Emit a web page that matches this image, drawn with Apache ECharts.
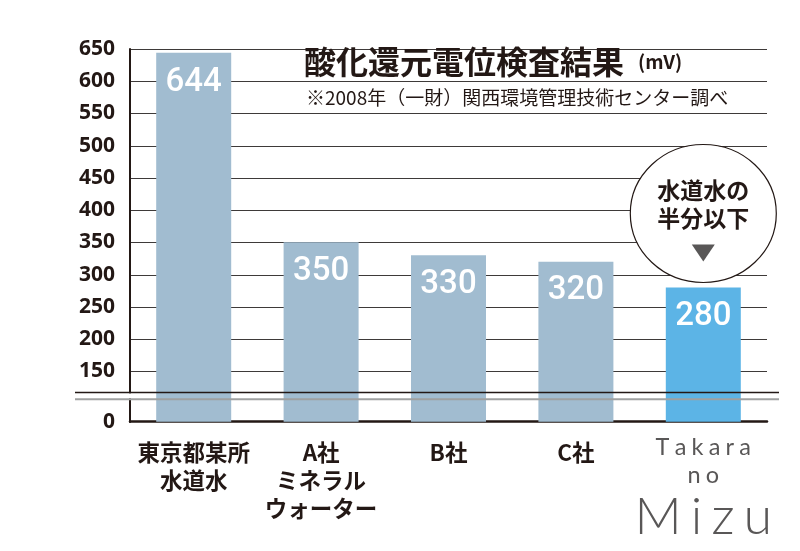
<!DOCTYPE html>
<html><head><meta charset="utf-8">
<script src="https://cdn.jsdelivr.net/npm/echarts@6/dist/echarts.min.js"></script>
<style>html,body{margin:0;padding:0;background:#fff}#c{width:800px;height:551px}</style>
</head><body><div id="c"></div>
<script>
// ---- data ----
const categories = ['東京都某所\n水道水', 'A社\nミネラル\nウォーター', 'B社', 'C社', 'Takara\nno\nMizu'];
const values = [644, 350, 330, 320, 280];
const yMin = 0, yMax = 650, yInterval = 50;
const yTickValues = [0, 150, 200, 250, 300, 350, 400, 450, 500, 550, 600, 650];
const breakStart = 35, breakEnd = 117;
const titleMain = '酸化還元電位検査結果';
const titleUnit = '(mV)';
const subTitle = '※2008年（一財）関西環境管理技術センター調べ';
const calloutLines = ['水道水の', '半分以下'];

// ---- styles ----
const DARK = '#231815';
const BAR = '#a1bcd0';
const HI = '#5cb4e6';
const CJK = '"Noto Sans CJK JP", "Noto Sans", sans-serif';
const THIN = 'Lato, Inter, sans-serif';

function spaced(word, style) {
  return word.split('').map(ch => '{' + style + '|' + ch + '}').join('');
}

const chart = echarts.init(document.getElementById('c'), null, {renderer: 'canvas'});
const option = {
  animation: false,
  backgroundColor: '#fff',
  title: [
    {
      text: '{a|' + titleMain + '}{b|' + titleUnit + '}',
      left: 304, top: 44, padding: 0,
      textStyle: {
        rich: {
          a: {fontFamily: CJK, fontWeight: 'bold', fontSize: 32, color: DARK, lineHeight: 36},
          b: {fontFamily: CJK, fontWeight: 'bold', fontSize: 19, color: DARK, padding: [0, 0, 0, 14], lineHeight: 36}
        }
      }
    },
    {
      text: subTitle,
      left: 306, top: 87, padding: 0,
      textStyle: {fontFamily: CJK, fontWeight: 'normal', fontSize: 19, color: DARK, lineHeight: 22}
    }
  ],
  grid: {left: 130, right: 33, top: 49, bottom: 129.3, containLabel: false},
  xAxis: {
    type: 'category',
    data: categories,
    axisLine: {show: true, lineStyle: {color: DARK, width: 2.5}},
    axisTick: {show: false},
    axisLabel: {
      interval: 0, margin: 17,
      fontFamily: CJK, fontWeight: 'bold', fontSize: 22.5, lineHeight: 28, color: DARK,
      formatter: function (v) {
        if (v.indexOf('Takara') === 0) {
          const p = v.split('\n');
          return spaced(p[0], 't1') + '\n' + spaced(p[1], 't2') + '\n' + spaced(p[2], 'm');
        }
        return v;
      },
      rich: {
        t1: {fontFamily: THIN, fontWeight: 'normal', fontSize: 23.5, color: '#595757', lineHeight: 18, padding: [0, 2.6]},
        t2: {fontFamily: THIN, fontWeight: 'normal', fontSize: 23.5, color: '#595757', lineHeight: 37, padding: [0, 2.6]},
        m: {fontFamily: THIN, fontWeight: 300, fontSize: 52, color: '#595757', lineHeight: 47, padding: [0, 4.5]}
      }
    }
  },
  yAxis: {
    type: 'value',
    min: yMin, max: yMax, interval: yInterval,
    breaks: [{start: breakStart, end: breakEnd, gap: 10.4}],
    breakArea: {show: false},
    axisLine: {show: true, lineStyle: {color: DARK, width: 2}},
    axisTick: {show: false, customValues: yTickValues},
    splitLine: {show: false},
    axisLabel: {
      margin: 15, customValues: yTickValues,
      fontFamily: '"Noto Sans", sans-serif', fontWeight: 'bold', fontSize: 21, color: DARK
    }
  },
  series: [{
    type: 'bar',
    data: values,
    barWidth: 75,
    z: 5,
    itemStyle: {
      color: function (p) { return p.dataIndex === values.length - 1 ? HI : BAR; }
    },
    label: {
      show: true, position: 'insideTop', distance: 13,
      fontFamily: 'Roboto, "Liberation Sans", sans-serif', fontWeight: 500, fontSize: 33, color: '#fff'
    }
  }]
};
chart.setOption(option);

const yS = chart.convertToPixel({yAxisIndex: 0}, breakStart);
const yE = chart.convertToPixel({yAxisIndex: 0}, breakEnd);
const cx = chart.convertToPixel({xAxisIndex: 0}, categories[categories.length - 1]);
const gridRight = 800 - 33;
const cy = 213.5;

const gridLines = yTickValues.filter(v => v > yMin).map(v => {
  const y = Math.round(chart.convertToPixel({yAxisIndex: 0}, v)) + 0.5;
  return {type: 'line', z: 1, silent: true, shape: {x1: 131, y1: y, x2: gridRight, y2: y}, style: {stroke: '#3e3a39', lineWidth: 1.2}};
});

chart.setOption({
  graphic: gridLines.concat([
    {type: 'rect', z: 100, shape: {x: 127, y: yE + 1, width: 7, height: yS - yE - 2}, style: {fill: '#fff'}},
    {type: 'line', z: 101, shape: {x1: 75, y1: yE, x2: 779, y2: yE}, style: {stroke: DARK, lineWidth: 1.5}},
    {type: 'line', z: 101, shape: {x1: 75, y1: yS, x2: 779, y2: yS}, style: {stroke: '#9fa0a0', lineWidth: 2}},
    {type: 'ellipse', z: 102, shape: {cx: cx, cy: cy, rx: 73, ry: 69}, style: {fill: '#fff', stroke: DARK, lineWidth: 1.2}},
    {type: 'text', z: 103, x: cx, y: cy - 23, style: {text: calloutLines[0], fontFamily: CJK, fontWeight: 'bold', fontSize: 23, fill: DARK, align: 'center', verticalAlign: 'middle'}},
    {type: 'text', z: 103, x: cx, y: cy + 5, style: {text: calloutLines[1], fontFamily: CJK, fontWeight: 'bold', fontSize: 23, fill: DARK, align: 'center', verticalAlign: 'middle'}},
    {type: 'polygon', z: 103, shape: {points: [[cx - 11.5, cy + 31], [cx + 11.5, cy + 31], [cx, cy + 48]]}, style: {fill: '#595757'}}
  ])
});
</script>
</body></html>
